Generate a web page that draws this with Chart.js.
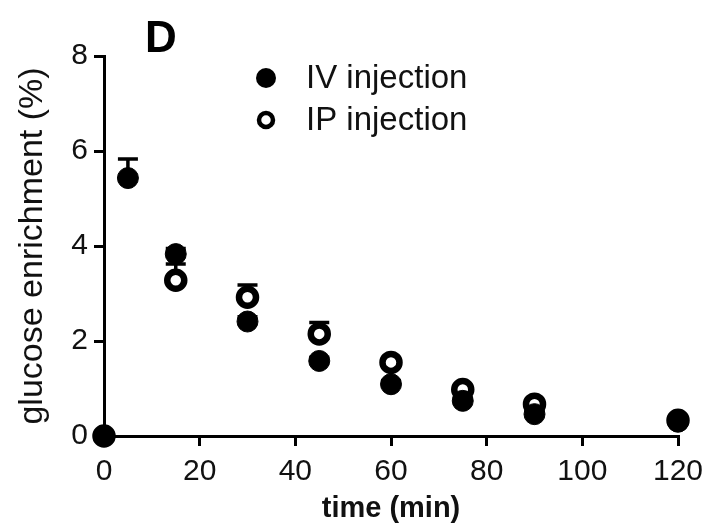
<!DOCTYPE html>
<html>
<head>
<meta charset="utf-8">
<script src="https://cdn.jsdelivr.net/npm/chart.js@4/dist/chart.umd.min.js"></script>
<style>
  body { margin: 0; background: #fff; }
  #wrap { width: 708px; height: 528px; }
</style>
</head>
<body>
<div id="wrap"><canvas id="myChart" width="708" height="528"></canvas></div>
<script>
// time points (min)
var times = [0, 5, 15, 30, 45, 60, 75, 90, 120];
// IV injection, mean and SEM
var ivMean = [0, 5.43, 3.83, 2.41, 1.58, 1.09, 0.74, 0.46, 0.30];
var ivErr  = [0, 0.40, 0.12, 0.10, 0.08, 0.08, 0.06, 0.06, 0.05];
// IP injection, mean and SEM
var ipTimes = [0, 15, 30, 45, 60, 75, 90, 120];
var ipMean = [0, 3.28, 2.92, 2.15, 1.55, 0.98, 0.67, 0.33];
var ipErr  = [0, 0.34, 0.26, 0.24, 0.10, 0.08, 0.06, 0.05];
var xTicks = [0, 20, 40, 60, 80, 100, 120];
var yTicks = [0, 2, 4, 6, 8];

var font = "'Liberation Sans', Arial, sans-serif";
var ink = '#111';

function points(xs, ys, es) {
  var out = [];
  for (var i = 0; i < xs.length; i++) {
    out.push({ x: xs[i], y: ys[i], err: es[i] });
  }
  return out;
}

// upward error bars with a cap, drawn under the markers
var errorBars = {
  id: 'errorBars',
  beforeDatasetsDraw: function(chart) {
    var ctx = chart.ctx;
    var xs = chart.scales.x, ys = chart.scales.y;
    ctx.save();
    ctx.strokeStyle = '#000';
    ctx.lineWidth = 3.5;
    chart.data.datasets.forEach(function(ds) {
      ds.data.forEach(function(p) {
        if (!p.err) return;
        var px = xs.getPixelForValue(p.x);
        var y0 = ys.getPixelForValue(p.y);
        var y1 = ys.getPixelForValue(p.y + p.err);
        ctx.beginPath();
        ctx.moveTo(px, y0);
        ctx.lineTo(px, y1);
        ctx.moveTo(px - 10, y1);
        ctx.lineTo(px + 10, y1);
        ctx.stroke();
      });
    });
    ctx.restore();
  }
};

// panel letter and legend
var extras = {
  id: 'extras',
  afterDraw: function(chart) {
    var ctx = chart.ctx;
    ctx.save();
    ctx.fillStyle = '#000';
    ctx.textBaseline = 'middle';
    ctx.font = 'bold 44px ' + font;
    ctx.fillText('D', 145, 40);

    var rows = [78, 120];
    chart.data.datasets.forEach(function(ds, i) {
      var y = rows[i];
      ctx.beginPath();
      ctx.arc(266, y, i == 0 ? 10 : 7, 0, Math.PI * 2);
      if (i == 0) {
        ctx.fillStyle = '#000';
        ctx.fill();
      } else {
        ctx.fillStyle = '#fff';
        ctx.fill();
        ctx.lineWidth = 4.5;
        ctx.strokeStyle = '#000';
        ctx.stroke();
      }
      ctx.fillStyle = ink;
      ctx.font = '33px ' + font;
      ctx.fillText(ds.label, 306, y + 1);
    });
    ctx.restore();
  }
};

var ctx = document.getElementById('myChart').getContext('2d');
var myChart = new Chart(ctx, {
  type: 'scatter',
  data: {
    datasets: [{
      label: 'IV injection',
      data: points(times, ivMean, ivErr),
      pointRadius: 10.5,
      pointBackgroundColor: '#000',
      pointBorderColor: '#000',
      pointBorderWidth: 1,
      clip: false
    }, {
      label: 'IP injection',
      data: points(ipTimes, ipMean, ipErr),
      pointRadius: 8.5,
      pointBackgroundColor: '#fff',
      pointBorderColor: '#000',
      pointBorderWidth: 6.5,
      clip: false
    }]
  },
  options: {
    responsive: false,
    animation: false,
    layout: { padding: { left: 0, right: 30, top: 56, bottom: 0 } },
    plugins: {
      legend: { display: false },
      tooltip: { enabled: false }
    },
    scales: {
      x: {
        type: 'linear',
        min: 0,
        max: 120,
        afterFit: function(scale) {
          scale.height = 92;
          scale.paddingLeft = 0;
          scale.paddingRight = 0;
        },
        afterBuildTicks: function(scale) {
          scale.ticks = xTicks.map(function(v) { return { value: v }; });
        },
        border: { color: '#000', width: 3 },
        grid: { display: true, drawOnChartArea: false, drawTicks: true, tickLength: 10, color: '#000', lineWidth: 3 },
        ticks: { color: ink, padding: 8, font: { family: font, size: 30 } },
        title: {
          display: true,
          text: 'time (min)',
          color: ink,
          padding: { top: 0, bottom: 2 },
          font: { family: font, size: 29, weight: 'bold' }
        }
      },
      y: {
        type: 'linear',
        min: 0,
        max: 8,
        afterFit: function(scale) {
          scale.width = 104;
          scale.paddingTop = 0;
          scale.paddingBottom = 0;
        },
        afterBuildTicks: function(scale) {
          scale.ticks = yTicks.map(function(v) { return { value: v }; });
        },
        border: { color: '#000', width: 3 },
        grid: { display: true, drawOnChartArea: false, drawTicks: true, tickLength: 10, color: '#000', lineWidth: 3 },
        ticks: { color: ink, padding: 6, font: { family: font, size: 30 } },
        title: {
          display: true,
          text: 'glucose enrichment (%)',
          color: ink,
          padding: { top: 12, bottom: 0 },
          font: { family: font, size: 34 }
        }
      }
    }
  },
  plugins: [errorBars, extras]
});
</script>
</body>
</html>
